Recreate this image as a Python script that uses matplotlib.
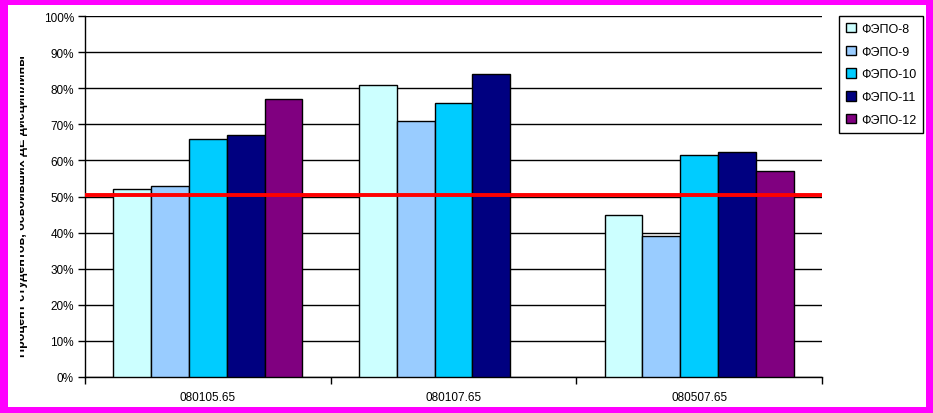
import matplotlib.pyplot as plt
from matplotlib.patches import Rectangle
from matplotlib.ticker import FixedLocator, PercentFormatter
import numpy as np

plt.rcParams['font.family'] = ['Liberation Sans', 'DejaVu Sans']

kategorije = ["080105.65", "080107.65", "080507.65"]
serije = ["ФЭПО-8", "ФЭПО-9", "ФЭПО-10", "ФЭПО-11", "ФЭПО-12"]
barve = ["#CCFFFF", "#99CCFF", "#00CCFF", "#000080", "#800080"]
vrednosti = [
    [0.52, 0.81, 0.45],   # ФЭПО-8
    [0.53, 0.71, 0.39],   # ФЭПО-9
    [0.66, 0.76, 0.615],  # ФЭПО-10
    [0.67, 0.84, 0.622],  # ФЭПО-11
    [0.77, np.nan, 0.57], # ФЭПО-12 (ni podatka za 080107.65)
]
meja = 0.505
ylabel = "Процент студентов, освоивших ДЕ дисциплины"

W, H = 933, 414
fig = plt.figure(figsize=(W / 100, H / 100), dpi=100)
fig.patch.set_facecolor("#FF00FF")
fig.patches.append(Rectangle((8 / W, 6 / H), (926 - 8) / W, (408 - 6) / H,
                             transform=fig.transFigure, facecolor="white",
                             edgecolor="none", zorder=-5))

ax = fig.add_axes([85 / W, (H - 378) / H, (822 - 85) / W, (378 - 17) / H])
ax.set_facecolor("white")

x = np.arange(len(kategorije))
w = 1 / 6.5
for i, (ime, barva, vals) in enumerate(zip(serije, barve, vrednosti)):
    ax.bar(x + (i - 2) * w, vals, width=w, color=barva, edgecolor="black",
           linewidth=1, label=ime, zorder=3)

ax.axhline(meja, color="red", linewidth=2.8, zorder=4)

ax.set_xlim(-0.5, 2.5)
ax.set_ylim(0, 1)
ax.set_yticks(np.arange(0, 1.01, 0.1))
ax.yaxis.set_major_formatter(PercentFormatter(1.0, decimals=0))
ax.grid(axis="y", color="black", linewidth=1, zorder=0)
ax.set_axisbelow(True)

ax.set_xticks(x)
ax.set_xticklabels(kategorije)
ax.xaxis.set_minor_locator(FixedLocator([-0.5, 0.5, 1.5, 2.5]))
ax.tick_params(axis="x", which="major", length=0, pad=10, labelsize=8.5)
ax.tick_params(axis="x", which="minor", length=5, width=1, direction="out")
ax.tick_params(axis="y", length=5, width=1, direction="out", pad=3, labelsize=8.5)

for s in ["top", "right"]:
    ax.spines[s].set_visible(False)
for s in ["left", "bottom"]:
    ax.spines[s].set_linewidth(1)

# y oznaka, na levi odrezana kot v originalu
t = fig.text(28 / W, 1 - 206 / H, ylabel, rotation=90, ha="right", va="center",
             fontsize=9, fontweight="bold")
clip = Rectangle((20 / W, 0), 40 / W, 1, transform=fig.transFigure)
t.set_clip_path(clip)
t.set_clip_on(True)

fig.legend(loc="upper left", bbox_to_anchor=(839 / W, 1 - 17 / H),
           fontsize=9, frameon=True, fancybox=False, edgecolor="black",
           framealpha=1, handlelength=0.8, handleheight=0.8, handletextpad=0.4,
           labelspacing=0.85, borderpad=0.55, borderaxespad=0)

fig.savefig("out.png", dpi=100, facecolor=fig.get_facecolor())
